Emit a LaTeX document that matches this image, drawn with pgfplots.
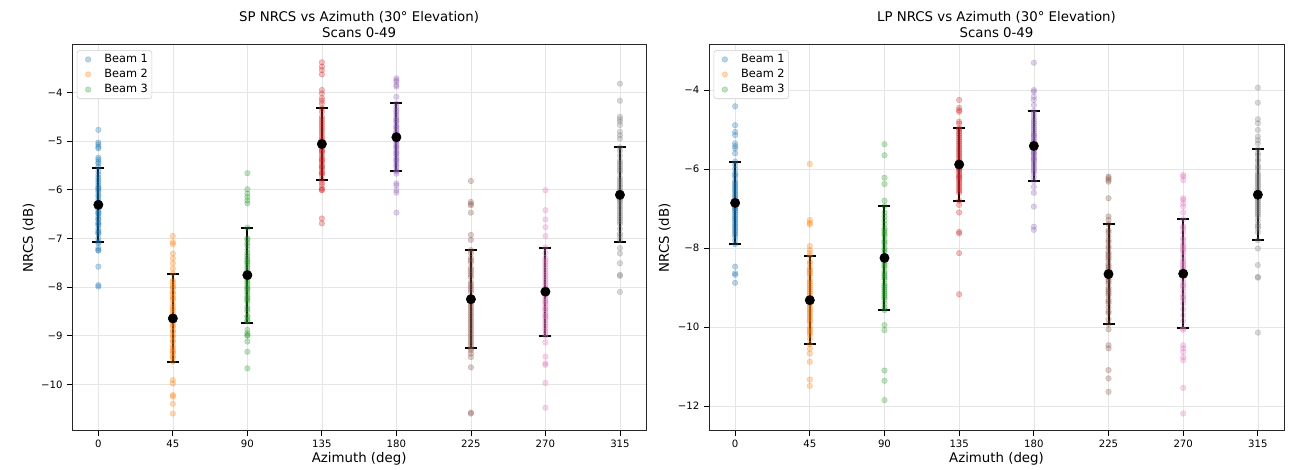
\documentclass[border=0pt]{standalone}
\usepackage{pgfplots}
\pgfplotsset{compat=1.18}
\usepackage{fontspec}
\setmainfont{DejaVu Sans}
\definecolor{c0}{HTML}{1F77B4}
\definecolor{c1}{HTML}{FF7F0E}
\definecolor{c2}{HTML}{2CA02C}
\definecolor{c3}{HTML}{D62728}
\definecolor{c4}{HTML}{9467BD}
\definecolor{c5}{HTML}{8C564B}
\definecolor{c6}{HTML}{E377C2}
\definecolor{c7}{HTML}{7F7F7F}
\pgfplotsset{
  scat/.style={only marks, mark=*, mark size=2.1pt, color=#1, mark options={fill=#1, draw=#1, line width=0.4pt, opacity=0.3},
    legend image code/.code={\path (0pt,0pt) (17pt,0pt); \draw[##1] plot[only marks] coordinates {(6.5pt,0pt)};}},
  meanerr/.style={only marks, black, mark=*, mark size=3.5pt, mark options={fill=black},
    error bars/.cd, y dir=both, y explicit,
    error bar style={line width=1.5pt, black},
    error mark options={rotate=90, mark size=4.5pt, line width=1.5pt, black}},
  common/.style={
    scale only axis, width=#1, height=289.5pt,
    xmin=-15.75, xmax=330.75,
    xtick={0,45,90,135,180,225,270,315},
    xticklabels={0,45,90,135,180,225,270,315},
    tick pos=left,
    tick align=outside, major tick length=3.7pt,
    tick style={black, line width=0.6pt},
    axis line style={line width=0.6pt, black!85},
    grid=major, major grid style={black!10, line width=0.5pt},
    ticklabel style={font=\fontsize{7.6}{9}\selectfont},
    title style={at={(axis description cs:0.5,1)}, anchor=south, yshift=-4.5pt, align=center, font=\fontsize{10}{12}\selectfont},
    label style={font=\fontsize{10}{12}\selectfont},
    xlabel style={at={(axis description cs:0.5,-0.0829)}, anchor=base},
    xlabel={Azimuth (deg)}, ylabel={NRCS (dB)},
    legend style={at={(axis description cs:0,1)}, anchor=north west, xshift=3.5pt, yshift=-4pt,
      draw=black!20, rounded corners=2pt, fill=white,
      row sep=0.5pt, inner xsep=1.5pt, inner ysep=1.5pt,
      nodes={inner sep=1.5pt, font=\fontsize{8.5}{10}\selectfont}},
    legend cell align=left,
    legend entries={Beam 1, Beam 2, Beam 3},
  }
}
\pgfplotstableread{
x m s
0 -6.31 0.76
45 -8.645 0.905
90 -7.755 0.975
135 -5.06 0.73
180 -4.92 0.695
225 -8.25 1.01
270 -8.095 0.905
315 -6.105 0.975
}\spstats
\pgfplotstableread{
x m s
0 -6.857 1.04
45 -9.32 1.11
90 -8.25 1.32
135 -5.885 0.915
180 -5.415 0.885
225 -8.66 1.26
270 -8.65 1.38
315 -6.65 1.15
}\lpstats
\begin{document}
\begin{tikzpicture}
\path[use as bounding box] (0,0) rectangle (969pt,351.75pt);
% ---------------- SP panel
\begin{axis}[common=430.3pt, at={(54.2pt,28.7pt)}, anchor=south west,
  ymin=-10.953, ymax=-3.02,
  ytick={-10,-9,-8,-7,-6,-5,-4},
  yticklabels={−10,−9,−8,−7,−6,−5,−4},
  ylabel style={at={(axis description cs:-0.0686,0.5)}, anchor=base},
  title={SP NRCS vs Azimuth (30° Elevation)\\Scans 0-49}]
\addplot[scat=c0] table[x expr=0,y index=0,header=false,row sep=\\]{
-4.77\\-5.03\\-5.07\\-5.12\\-5.15\\-5.34\\-5.38\\-5.43\\-5.46\\-5.53\\-5.62\\-5.69\\-5.8\\-5.85\\-5.9\\-5.97\\-6.04\\-6.14\\-6.28\\-6.35\\-6.41\\-6.48\\-6.62\\-6.68\\-6.73\\-6.8\\-6.89\\-7.0\\-7.07\\-7.24\\-7.25\\-7.58\\-7.96\\-7.99\\-5.95\\-6.1\\-6.2\\-6.3\\-6.5\\-6.55\\-6.6\\-6.7\\-6.85\\-6.9\\-7.1\\-6.25\\-5.75\\-6.0\\-6.45\\-7.2\\
};
\addplot[scat=c1] table[x expr=45,y index=0,header=false,row sep=\\]{
-6.95\\-7.08\\-7.12\\-7.31\\-7.41\\-7.51\\-7.62\\-7.72\\-7.86\\-7.96\\-8.03\\-8.13\\-8.23\\-8.27\\-8.41\\-8.55\\-8.68\\-8.82\\-8.92\\-9.02\\-9.12\\-9.33\\-9.36\\-9.43\\-9.53\\-9.91\\-9.98\\-10.22\\-10.25\\-10.4\\-10.6\\-8.0\\-8.2\\-8.35\\-8.5\\-8.6\\-8.75\\-8.9\\-9.0\\-9.2\\-9.25\\-8.45\\-8.7\\-9.45\\-8.1\\-7.9\\-8.8\\-9.1\\-8.65\\-9.3\\
};
\addplot[scat=c2] table[x expr=90,y index=0,header=false,row sep=\\]{
-5.66\\-5.99\\-6.08\\-6.15\\-6.22\\-6.28\\-6.78\\-7.0\\-7.03\\-7.1\\-7.23\\-7.44\\-7.48\\-7.65\\-7.86\\-8.03\\-8.23\\-8.27\\-8.4\\-8.61\\-8.68\\-8.88\\-8.99\\-9.12\\-9.33\\-9.67\\-7.3\\-7.5\\-7.6\\-7.7\\-7.8\\-7.9\\-8.0\\-8.1\\-8.15\\-8.3\\-8.5\\-7.15\\-7.35\\-7.55\\-7.95\\-8.45\\-8.7\\-8.95\\-7.75\\-8.05\\-7.4\\-8.2\\-8.6\\-9.0\\
};
\addplot[scat=c3] table[x expr=135,y index=0,header=false,row sep=\\]{
-3.38\\-3.47\\-3.54\\-3.63\\-3.95\\-4.02\\-4.12\\-4.17\\-4.23\\-4.33\\-4.5\\-4.7\\-4.91\\-5.12\\-5.25\\-5.39\\-5.53\\-5.66\\-5.79\\-5.97\\-6.01\\-6.59\\-6.69\\-4.4\\-4.6\\-4.8\\-4.85\\-4.95\\-5.0\\-5.05\\-5.1\\-5.15\\-5.2\\-5.3\\-5.35\\-5.45\\-5.5\\-5.6\\-5.7\\-4.65\\-4.75\\-5.0\\-5.2\\-5.4\\-5.55\\-6.0\\-5.9\\-4.55\\-5.85\\-5.65\\
};
\addplot[scat=c4] table[x expr=180,y index=0,header=false,row sep=\\]{
-3.71\\-3.75\\-3.78\\-3.85\\-3.88\\-4.09\\-4.23\\-4.36\\-4.57\\-4.71\\-4.84\\-4.98\\-5.12\\-5.25\\-5.39\\-5.53\\-5.62\\-5.67\\-5.87\\-5.91\\-6.01\\-6.06\\-6.47\\-4.4\\-4.5\\-4.6\\-4.65\\-4.75\\-4.8\\-4.9\\-4.95\\-5.0\\-5.05\\-5.1\\-5.2\\-5.3\\-5.35\\-5.45\\-4.3\\-4.45\\-5.5\\-5.6\\-4.85\\-5.15\\-4.7\\-5.0\\-4.55\\-5.25\\-4.9\\-5.4\\
};
\addplot[scat=c5] table[x expr=225,y index=0,header=false,row sep=\\]{
-5.82\\-6.25\\-6.29\\-6.32\\-6.47\\-6.93\\-7.03\\-7.24\\-7.45\\-7.6\\-7.75\\-7.9\\-8.1\\-8.3\\-8.45\\-8.6\\-8.75\\-8.9\\-9.05\\-9.26\\-9.37\\-9.44\\-9.65\\-10.58\\-10.6\\-7.3\\-7.5\\-7.7\\-7.8\\-8.0\\-8.2\\-8.4\\-8.5\\-8.7\\-8.8\\-9.0\\-9.1\\-9.2\\-7.4\\-7.95\\-8.25\\-8.55\\-8.65\\-8.85\\-9.15\\-7.65\\-8.05\\-8.35\\-8.95\\-9.3\\
};
\addplot[scat=c6] table[x expr=270,y index=0,header=false,row sep=\\]{
-6.01\\-6.42\\-6.61\\-6.77\\-6.95\\-7.19\\-7.4\\-7.55\\-7.7\\-7.85\\-8.0\\-8.15\\-8.3\\-8.45\\-8.6\\-8.75\\-8.9\\-8.95\\-9.14\\-9.43\\-9.57\\-9.6\\-9.97\\-10.48\\-7.3\\-7.5\\-7.6\\-7.8\\-7.9\\-8.05\\-8.1\\-8.2\\-8.25\\-8.35\\-8.4\\-8.5\\-8.55\\-8.65\\-8.7\\-8.8\\-7.45\\-7.65\\-7.95\\-8.15\\-8.45\\-8.85\\-7.75\\-8.3\\-8.6\\-9.0\\
};
\addplot[scat=c7] table[x expr=315,y index=0,header=false,row sep=\\]{
-3.82\\-4.17\\-4.5\\-4.55\\-4.6\\-4.67\\-4.81\\-4.88\\-4.95\\-5.13\\-5.3\\-5.45\\-5.6\\-5.75\\-5.9\\-6.05\\-6.2\\-6.35\\-6.5\\-6.65\\-6.8\\-6.95\\-7.03\\-7.2\\-7.31\\-7.51\\-7.75\\-7.77\\-8.1\\-5.2\\-5.4\\-5.5\\-5.65\\-5.8\\-5.95\\-6.0\\-6.1\\-6.15\\-6.25\\-6.3\\-6.4\\-6.45\\-6.55\\-6.6\\-6.7\\-5.85\\-6.2\\-6.05\\-5.55\\-6.9\\
};
\addplot[meanerr] table[x=x, y=m, y error=s]{\spstats};
\end{axis}
% ---------------- LP panel
\begin{axis}[common=431.25pt, at={(531.75pt,28.7pt)}, anchor=south west,
  ymin=-12.625, ymax=-2.853,
  ytick={-12,-10,-8,-6,-4},
  yticklabels={−12,−10,−8,−6,−4},
  ylabel style={at={(axis description cs:-0.0696,0.5)}, anchor=base},
  title={LP NRCS vs Azimuth (30° Elevation)\\Scans 0-49}]
\addplot[scat=c0] table[x expr=0,y index=0,header=false,row sep=\\]{
-4.41\\-4.89\\-5.06\\-5.14\\-5.35\\-5.42\\-5.48\\-5.6\\-5.81\\-6.0\\-6.15\\-6.3\\-6.45\\-6.6\\-6.75\\-6.9\\-7.05\\-7.2\\-7.35\\-7.5\\-7.65\\-7.8\\-7.9\\-8.47\\-8.64\\-8.68\\-8.88\\-5.9\\-6.1\\-6.2\\-6.4\\-6.5\\-6.55\\-6.7\\-6.8\\-6.85\\-6.95\\-7.0\\-7.1\\-7.15\\-7.25\\-7.3\\-7.4\\-7.6\\-7.7\\-6.65\\-7.0\\-6.35\\-7.45\\-7.55\\
};
\addplot[scat=c1] table[x expr=45,y index=0,header=false,row sep=\\]{
-5.87\\-7.29\\-7.36\\-7.4\\-7.95\\-8.05\\-8.13\\-8.2\\-8.35\\-8.5\\-8.65\\-8.8\\-8.95\\-9.1\\-9.25\\-9.4\\-9.55\\-9.7\\-9.85\\-10.0\\-10.15\\-10.3\\-10.43\\-10.55\\-10.67\\-10.88\\-11.33\\-11.49\\-8.4\\-8.6\\-8.7\\-8.9\\-9.0\\-9.2\\-9.3\\-9.35\\-9.45\\-9.5\\-9.6\\-9.8\\-9.9\\-10.1\\-10.2\\-8.55\\-9.15\\-9.65\\-10.05\\-8.85\\-9.05\\-9.75\\
};
\addplot[scat=c2] table[x expr=90,y index=0,header=false,row sep=\\]{
-5.37\\-5.65\\-6.22\\-6.38\\-6.8\\-6.94\\-7.1\\-7.3\\-7.5\\-7.7\\-7.9\\-8.1\\-8.3\\-8.5\\-8.7\\-8.9\\-9.05\\-9.1\\-9.3\\-9.5\\-9.57\\-9.95\\-10.08\\-11.1\\-11.36\\-11.85\\-7.2\\-7.4\\-7.6\\-7.8\\-8.0\\-8.2\\-8.4\\-8.6\\-8.8\\-9.0\\-9.2\\-9.4\\-7.55\\-7.85\\-8.05\\-8.35\\-8.65\\-8.95\\-9.15\\-7.65\\-8.25\\-8.45\\-8.75\\-9.25\\
};
\addplot[scat=c3] table[x expr=135,y index=0,header=false,row sep=\\]{
-4.25\\-4.45\\-4.51\\-4.55\\-4.8\\-4.85\\-4.97\\-5.1\\-5.25\\-5.4\\-5.55\\-5.7\\-5.85\\-6.0\\-6.15\\-6.3\\-6.45\\-6.6\\-6.8\\-6.91\\-7.1\\-7.59\\-7.63\\-8.13\\-9.17\\-5.0\\-5.2\\-5.3\\-5.45\\-5.5\\-5.6\\-5.65\\-5.75\\-5.8\\-5.9\\-5.95\\-6.05\\-6.1\\-6.2\\-6.25\\-6.35\\-6.4\\-6.5\\-5.35\\-5.05\\-6.55\\-5.15\\-6.0\\-5.85\\-6.2\\
};
\addplot[scat=c4] table[x expr=180,y index=0,header=false,row sep=\\]{
-3.31\\-4.0\\-4.04\\-4.17\\-4.25\\-4.38\\-4.53\\-4.68\\-4.85\\-5.0\\-5.15\\-5.3\\-5.45\\-5.6\\-5.75\\-5.9\\-6.05\\-6.2\\-6.3\\-6.45\\-6.6\\-6.95\\-7.46\\-7.54\\-4.6\\-4.75\\-4.9\\-5.05\\-5.1\\-5.2\\-5.25\\-5.35\\-5.4\\-5.5\\-5.55\\-5.65\\-5.7\\-5.8\\-5.85\\-5.95\\-6.0\\-4.95\\-5.3\\-5.45\\-5.6\\-6.1\\-4.8\\-5.15\\-5.5\\-5.75\\
};
\addplot[scat=c5] table[x expr=225,y index=0,header=false,row sep=\\]{
-6.19\\-6.23\\-6.28\\-6.32\\-6.74\\-7.2\\-7.29\\-7.4\\-7.55\\-7.7\\-7.85\\-8.0\\-8.15\\-8.3\\-8.45\\-8.6\\-8.75\\-8.9\\-9.05\\-9.2\\-9.35\\-9.5\\-9.65\\-9.8\\-9.92\\-10.06\\-10.46\\-10.54\\-11.09\\-11.3\\-11.64\\-7.6\\-7.8\\-8.1\\-8.2\\-8.4\\-8.5\\-8.7\\-8.8\\-9.0\\-9.1\\-9.3\\-9.4\\-8.55\\-8.85\\-9.15\\-8.65\\-8.25\\-9.6\\-7.95\\
};
\addplot[scat=c6] table[x expr=270,y index=0,header=false,row sep=\\]{
-6.15\\-6.19\\-6.28\\-6.74\\-6.78\\-6.87\\-6.95\\-7.1\\-7.27\\-7.45\\-7.6\\-7.75\\-7.9\\-8.05\\-8.2\\-8.35\\-8.5\\-8.65\\-8.8\\-8.95\\-9.1\\-9.25\\-9.4\\-9.55\\-9.7\\-9.85\\-10.03\\-10.07\\-10.46\\-10.54\\-10.63\\-10.76\\-10.84\\-11.54\\-12.19\\-7.8\\-8.0\\-8.1\\-8.3\\-8.4\\-8.6\\-8.7\\-8.9\\-9.0\\-9.2\\-9.3\\-7.5\\-7.95\\-8.45\\-8.55\\
};
\addplot[scat=c7] table[x expr=315,y index=0,header=false,row sep=\\]{
-3.94\\-4.32\\-4.74\\-4.84\\-5.01\\-5.18\\-5.27\\-5.35\\-5.5\\-5.65\\-5.8\\-5.95\\-6.1\\-6.25\\-6.4\\-6.55\\-6.7\\-6.85\\-7.0\\-7.15\\-7.3\\-7.45\\-7.6\\-7.8\\-8.01\\-8.43\\-8.73\\-8.75\\-10.14\\-5.6\\-5.9\\-6.0\\-6.2\\-6.3\\-6.5\\-6.6\\-6.65\\-6.75\\-6.8\\-6.9\\-7.05\\-7.2\\-7.4\\-6.45\\-6.15\\-7.1\\-6.35\\-5.75\\-7.5\\-6.95\\
};
\addplot[meanerr] table[x=x, y=m, y error=s]{\lpstats};
\end{axis}
\end{tikzpicture}
\end{document}
